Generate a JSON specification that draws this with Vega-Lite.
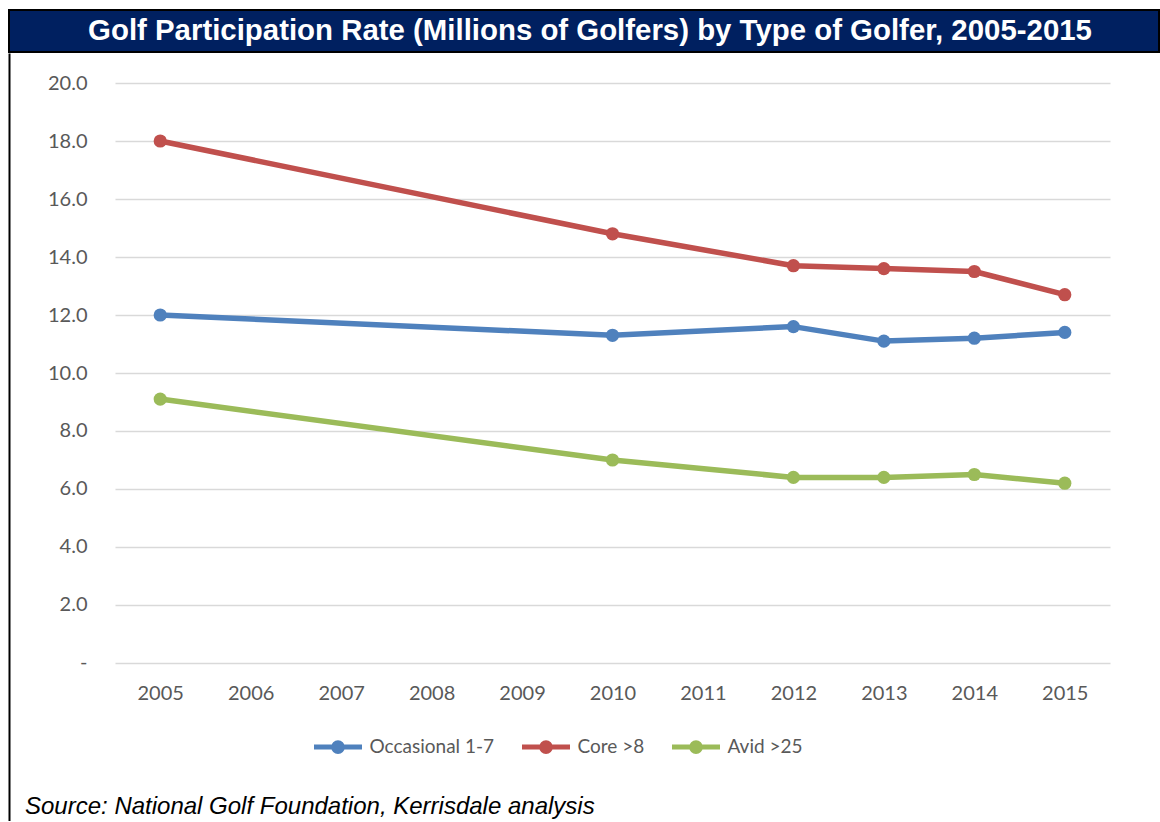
{
  "$schema": "https://vega.github.io/schema/vega-lite/v6.json",
  "background": "white",
  "padding": {"left": 8, "top": 9, "right": 0, "bottom": 0},
  "spacing": 0,
  "columns": 1,
  "config": {
    "font": "Lato",
    "view": {"stroke": null},
    "axis": {
      "domain": false,
      "ticks": false,
      "tickSize": 0,
      "labelFont": "Lato",
      "labelFontSize": 20,
      "labelColor": "#595959",
      "title": null
    }
  },
  "title": {
    "text": "Source: National Golf Foundation, Kerrisdale analysis",
    "orient": "bottom",
    "anchor": "start",
    "font": "Liberation Sans",
    "fontSize": 24,
    "fontStyle": "italic",
    "fontWeight": "normal",
    "color": "#000000",
    "dx": 17,
    "offset": -26
  },
  "concat": [
    {
      "width": 1150,
      "height": 42,
      "view": {"fill": "#002060", "stroke": "#000000", "strokeWidth": 2},
      "data": {"values": [{"heading": "Golf Participation Rate (Millions of Golfers) by Type of Golfer, 2005-2015"}]},
      "mark": {"type": "text", "font": "Liberation Sans", "fontWeight": "bold", "fontSize": 29.4, "color": "#ffffff", "dx": 6},
      "encoding": {"text": {"field": "heading"}}
    },
    {
      "width": 1150,
      "height": 768,
      "data": {
        "values": [
          {"year": 2005, "type": "Occasional 1-7", "millions": 12.0},
          {"year": 2010, "type": "Occasional 1-7", "millions": 11.3},
          {"year": 2012, "type": "Occasional 1-7", "millions": 11.6},
          {"year": 2013, "type": "Occasional 1-7", "millions": 11.1},
          {"year": 2014, "type": "Occasional 1-7", "millions": 11.2},
          {"year": 2015, "type": "Occasional 1-7", "millions": 11.4},
          {"year": 2005, "type": "Core >8", "millions": 18.0},
          {"year": 2010, "type": "Core >8", "millions": 14.8},
          {"year": 2012, "type": "Core >8", "millions": 13.7},
          {"year": 2013, "type": "Core >8", "millions": 13.6},
          {"year": 2014, "type": "Core >8", "millions": 13.5},
          {"year": 2015, "type": "Core >8", "millions": 12.7},
          {"year": 2005, "type": "Avid >25", "millions": 9.1},
          {"year": 2010, "type": "Avid >25", "millions": 7.0},
          {"year": 2012, "type": "Avid >25", "millions": 6.4},
          {"year": 2013, "type": "Avid >25", "millions": 6.4},
          {"year": 2014, "type": "Avid >25", "millions": 6.5},
          {"year": 2015, "type": "Avid >25", "millions": 6.2}
        ]
      },
      "encoding": {
        "x": {
          "field": "year",
          "type": "ordinal",
          "scale": {
            "domain": [2005, 2006, 2007, 2008, 2009, 2010, 2011, 2012, 2013, 2014, 2015],
            "range": [106, 1101]
          },
          "axis": {"labelAngle": 0, "labelPadding": 20, "grid": false, "offset": -158}
        },
        "y": {
          "field": "millions",
          "type": "quantitative",
          "scale": {"domain": [-5.4483, 21.0345], "nice": false, "zero": false},
          "axis": {
            "values": [0, 2, 4, 6, 8, 10, 12, 14, 16, 18, 20],
            "grid": true,
            "gridColor": "#D9D9D9",
            "gridWidth": 1.5,
            "domain": true,
            "domainColor": "#000000",
            "domainWidth": 2,
            "labelPadding": -78,
            "labelExpr": "datum.value === 0 ? '-\u00a0\u00a0\u00a0' : format(datum.value, '.1f')"
          }
        },
        "color": {
          "field": "type",
          "type": "nominal",
          "scale": {
            "domain": ["Occasional 1-7", "Core >8", "Avid >25"],
            "range": ["#4F81BD", "#C0504D", "#9BBB59"]
          },
          "legend": {
            "orient": "none",
            "legendX": 302.5,
            "legendY": 710.5,
            "direction": "horizontal",
            "columns": 3,
            "title": null,
            "padding": 0,
            "symbolType": "M-1,0H1M-0.18,0A0.18,0.18,0,1,0,0.18,0A0.18,0.18,0,1,0,-0.18,0M-0.06,0A0.06,0.06,0,1,0,0.06,0A0.06,0.06,0,1,0,-0.06,0",
            "symbolSize": 2304,
            "symbolStrokeWidth": 5,
            "symbolOpacity": 1,
            "labelFont": "Lato",
            "labelFontSize": 19,
            "labelColor": "#595959",
            "labelOffset": 5,
            "columnPadding": 17
          }
        }
      },
      "layer": [
        {"mark": {"type": "line", "strokeWidth": 5.5, "strokeCap": "round", "strokeJoin": "round"}},
        {"mark": {"type": "point", "filled": true, "size": 175, "opacity": 1}}
      ]
    }
  ]
}
